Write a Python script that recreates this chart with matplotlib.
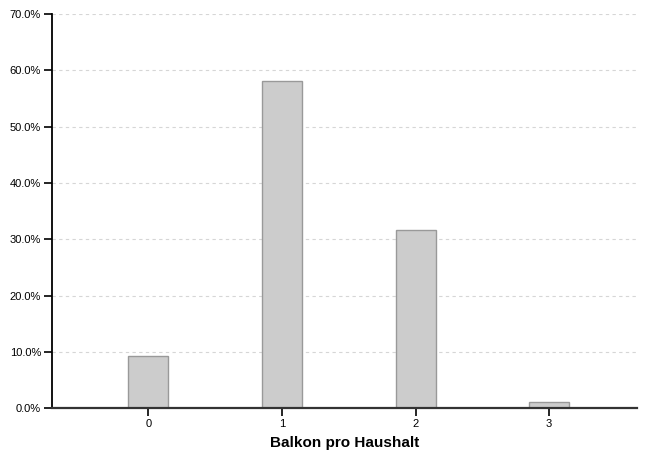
import matplotlib
matplotlib.use("Agg")
import matplotlib.pyplot as plt
from matplotlib.ticker import PercentFormatter

# ------ Daten

kategorien = ["0", "1", "2", "3"]
anteile = [9.2, 58.1, 31.6, 1.1]

plt.rcParams["font.family"] = ["Liberation Sans", "DejaVu Sans"]

fig = plt.figure(figsize=(6.45, 4.55), dpi=100)
ax = fig.add_axes([0.081, 0.103, 0.907, 0.866])

pos = range(len(kategorien))
ax.bar(pos, anteile, width=0.3, color="#cccccc", edgecolor="#999999",
       linewidth=1.0, zorder=3)

ax.set_xlim(-0.72, 3.66)
ax.set_ylim(0, 70)
ax.set_yticks(range(0, 71, 10))
ax.yaxis.set_major_formatter(PercentFormatter(decimals=1))
ax.set_xticks(list(pos))
ax.set_xticklabels(kategorien)

ax.grid(axis="y", linestyle=(0, (3, 3)), color="#d6d6d6", linewidth=0.8, zorder=0)

for s in ["top", "right"]:
    ax.spines[s].set_visible(False)
ax.spines["left"].set_color("black")
ax.spines["left"].set_linewidth(1.3)
ax.spines["bottom"].set_color("#333333")
ax.spines["bottom"].set_linewidth(1.6)
ax.spines["bottom"].set_zorder(4)

ax.tick_params(axis="both", labelsize=8, length=6, width=1.2, colors="black", pad=2)

ax.set_xlabel("Balkon pro Haushalt", fontsize=11, fontweight="bold", labelpad=5)

fig.savefig("out.png", dpi=100)
